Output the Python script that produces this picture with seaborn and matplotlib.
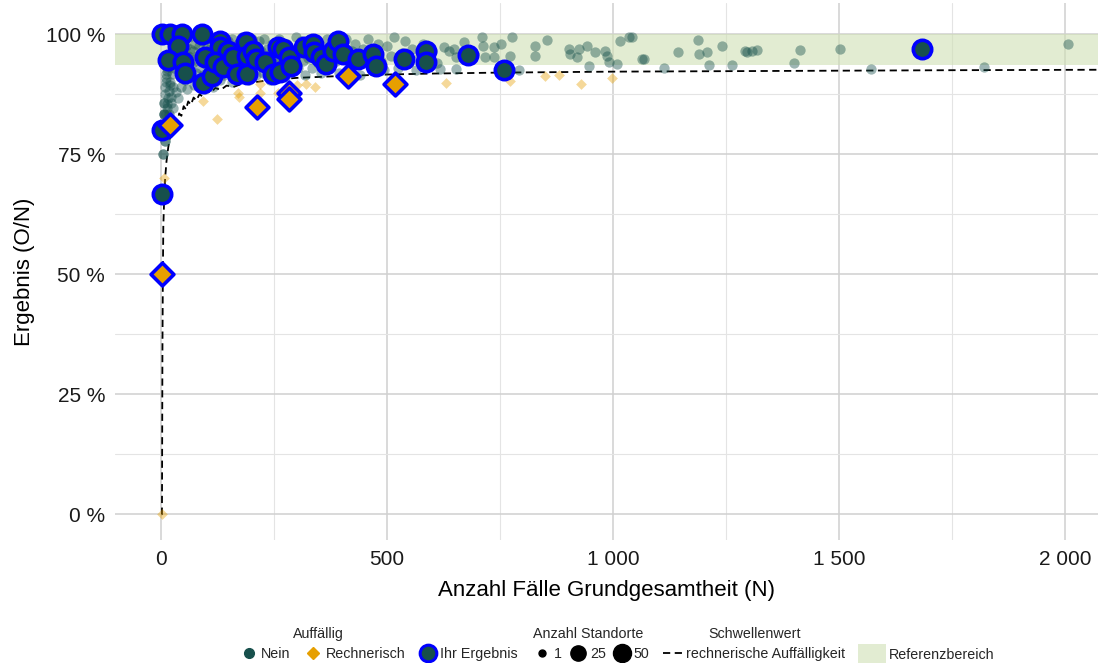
import numpy as np
import pandas as pd
import matplotlib
matplotlib.use("Agg")
import matplotlib.pyplot as plt
from matplotlib.lines import Line2D
from matplotlib.patches import Patch
from matplotlib.ticker import MultipleLocator, FixedLocator, FuncFormatter
import seaborn as sns

# --- data (N = Fälle, y = Ergebnis in %) ---

# all other sites, not auffällig
nein_n = [3, 5, 8, 10, 4, 9, 5, 11, 6, 13, 7, 15, 8, 17, 9, 10, 20, 11, 12, 24, 13, 14, 28, 15, 16, 18, 20, 22, 25, 28, 30,
          4, 9, 6, 14, 2, 4, 6, 7, 12, 18, 21, 26, 33, 38, 27, 19, 23,
          32, 35, 36, 40, 42, 44, 45, 48, 50, 52, 55, 57, 58, 60,
          62, 64, 66, 68, 70, 72, 74, 76, 78, 80, 82, 84, 86, 88, 90, 92, 95, 97, 99,
          102, 104, 106, 108, 110, 112, 114, 116, 118, 120, 122, 125, 127, 130, 132, 135, 137, 140, 142, 145, 147, 149,
          152, 154, 156, 158, 160, 162, 165, 167, 170, 172, 175, 178, 180, 182, 185, 187, 190, 193, 195, 198,
          202, 205, 208, 210, 213, 216, 219, 222, 225, 228, 231, 234, 237, 240, 243, 246, 249, 252, 255, 258,
          262, 266, 270, 274, 278, 282, 286, 290, 294, 298, 302, 306, 310, 314, 318, 322, 326, 330, 334, 338,
          343, 348, 353, 358, 363, 368, 373, 378, 383, 388, 393, 398, 404, 410, 416, 422, 428, 434, 440,
          446, 452, 458, 465, 472, 479, 486, 493, 500, 508, 516, 524, 532, 540, 548, 556, 564, 572, 580, 590, 600, 610, 618,
          627, 636, 649, 653, 671, 693, 709, 713, 716, 736, 736, 753, 771, 776, 793, 827, 827, 853, 902, 904, 920, 924,
          942, 947, 960, 982, 987, 991, 1009, 1016, 1036, 1064, 653,
          1042, 1069, 1113, 1144, 1189, 1191, 1209, 1213, 1242, 1264, 1293, 1296, 1307, 1318, 1400, 1413, 1502, 1571,
          1820, 2007]
nein_y = [100, 100, 100, 100, 75, 77.8, 80, 81.8, 83.3, 84.6, 85.7, 86.7, 87.5, 88.2, 88.9, 90, 90, 90.9, 91.7, 91.7, 92.3, 92.9, 92.9, 93.3, 93.8, 94.4, 95, 95.5, 96, 96.4, 96.7,
          75, 77.8, 83.3, 85.4, 100, 100, 83.3, 85.7, 83.3, 83.3, 85.7, 84.6, 87.9, 86.8, 88.9, 89.5, 87,
          99, 97, 95, 93, 91, 89, 98.5, 96, 94, 90.5, 97.5, 92.5, 88.5, 95.5,
          99.5, 97, 93.5, 91, 96.5, 89.5, 98, 94.5, 92, 95.5, 90, 97.5, 93, 96, 98.5, 91.5, 94, 88.5, 97,
          99, 95, 92.5, 90, 97.5, 94.5, 96.5, 89, 98.5, 92, 95.5, 97, 93.5, 90.5, 96, 99, 94, 91.5, 97.5, 95, 92.5, 98.5,
          96.5, 93, 90, 99, 94.5, 97, 92, 95.5, 98, 93.5, 96.5, 91, 99.5, 94, 97, 92.5, 95, 98, 90.5, 96,
          99, 93.5, 97.5, 91.5, 95.5, 98.5, 94, 96.5, 92, 99, 95, 97, 93, 90.5, 96, 98, 94.5, 92, 97.5, 95,
          99, 93.5, 96.5, 91, 98, 94, 97, 92.5, 95.5, 99.5, 93, 96, 98.5, 94.5, 91.5, 97, 95, 99, 93, 96.5,
          98, 94, 92, 97, 95.5, 99, 93.5, 96, 98.5, 94.5, 92, 97.5, 95, 99, 93, 96.5, 98, 94, 91.5,
          97, 95, 99, 93.5, 96.5, 98, 94.5, 92.5, 97.5, 95.5, 99.5, 93, 96, 98.5, 94, 97, 92.5, 95.5, 98, 93.5, 96.5, 94, 92.8,
          97.3, 96.5, 96.9, 95.2, 98.3, 95.8, 99.4, 97.5, 95.2, 97.3, 95.2, 97.9, 95.4, 99.4, 92.5, 97.5, 95.4, 98.8, 96.9, 95.8, 95.2, 96.9,
          97.5, 93.3, 96.3, 96.5, 95.4, 94.2, 93.8, 98.5, 99.4, 94.8, 92.7,
          99.4, 94.8, 92.9, 96.3, 98.7, 95.8, 96.2, 93.5, 97.5, 93.5, 96.5, 96.2, 96.6, 96.8, 94, 96.7, 97, 92.7,
          93.1, 97.9]

# rechnerisch auffällig, other sites
rech_n = [1, 7, 93, 124, 171, 173, 218, 220, 258, 300, 320, 340, 631, 773, 849, 880, 929, 998]
rech_y = [0, 70, 86, 82.3, 87.7, 86.9, 87.7, 89.6, 87.7, 89.5, 89.6, 88.9, 89.8, 90.2, 91.2, 91.5, 89.6, 90.8]

# Ihr Ergebnis, not auffällig
ihr_n = [2, 20, 47, 91, 38, 16, 49, 53, 93, 113, 98, 131, 131, 149, 120, 138, 160, 169, 187, 191, 191, 204, 209,
         231, 247, 258, 264, 269, 282, 287, 316, 336, 338, 353, 364, 380, 391, 402, 436, 469, 476, 538, 587, 587,
         680, 758, 1684, 3, 2]
ihr_y = [100, 100, 100, 100, 97.5, 94.6, 94.2, 92, 89.8, 91.2, 95.2, 98.5, 97.3, 96.5, 94.2, 93.1, 95.2, 91.7, 98.3,
         95.4, 91.7, 96.5, 94.8, 94.2, 91.7, 97.3, 92.1, 96.9, 95.2, 93.3, 97.3, 97.9, 96.3, 95.2, 93.8, 96.5, 98.5,
         95.8, 94.8, 95.8, 93.3, 94.8, 96.5, 94.2, 95.6, 92.5, 96.9, 80, 66.7]

# Ihr Ergebnis, rechnerisch auffällig
ihr_rech_n = [2, 20, 213, 284, 282, 413, 518]
ihr_rech_y = [50, 81, 84.8, 87.7, 86.5, 91.2, 89.6]

# Schwellenwert rechnerische Auffälligkeit
thr_n = [1, 2, 3, 4, 5, 7, 9, 12, 16, 20, 24, 28, 32, 36, 40, 45, 50, 55, 60, 66, 72, 78, 85, 92, 100, 110, 120,
         132, 145, 160, 180, 200, 230, 260, 300, 350, 400, 500, 600, 750, 1000, 1250, 1500, 1750, 2100]
thr_y = [0, 0, 33.3, 50, 60, 66, 70, 73.5, 76.5, 78.5, 80.5, 80, 82, 81.5, 83.5, 83, 85, 84.3, 86, 85.3, 86.8, 86.2,
         87.5, 87, 88.3, 87.8, 88.8, 88.4, 89.3, 89, 89.7, 89.9, 90.3, 90.6, 90.9, 91.1, 91.3, 91.6, 91.8, 92, 92.2,
         92.3, 92.4, 92.5, 92.6]

ref_lo, ref_hi = 93.5, 100

TEAL = "#17504c"
ORANGE = "#e69f00"
BLUE = "#0000ff"

sns.set_theme(style="whitegrid")
plt.rcParams["font.family"] = ["Liberation Sans", "DejaVu Sans"]

fig = plt.figure(figsize=(10.98, 6.63), dpi=100)
ax = fig.add_axes([0.1047, 0.1855, 0.8953, 0.8100])

ax.axhspan(ref_lo, ref_hi, color="#cfe0b4", alpha=0.6, lw=0, zorder=1)

sns.lineplot(x=thr_n, y=thr_y, ax=ax, color="black", lw=1.3, linestyle=(0, (4, 2.5)),
             estimator=None, sort=False, zorder=2)

sns.scatterplot(x=nein_n, y=nein_y, ax=ax, s=55, color=TEAL, alpha=0.42, linewidth=0, zorder=3, legend=False)
sns.scatterplot(x=rech_n, y=rech_y, ax=ax, s=30, marker="D", color=ORANGE, alpha=0.4, linewidth=0, zorder=3,
                legend=False)
sns.scatterplot(x=ihr_n, y=ihr_y, ax=ax, s=175, color=TEAL, edgecolor=BLUE, linewidth=2.6, zorder=5, legend=False)
sns.scatterplot(x=ihr_rech_n, y=ihr_rech_y, ax=ax, s=135, marker="D", color=ORANGE, edgecolor=BLUE, linewidth=2.6,
                zorder=5, legend=False)

ax.set_xlim(-102, 2073)
ax.set_ylim(-5.35, 106.5)

ax.xaxis.set_major_locator(FixedLocator([0, 500, 1000, 1500, 2000]))
ax.xaxis.set_minor_locator(FixedLocator([250, 750, 1250, 1750]))
ax.yaxis.set_major_locator(MultipleLocator(25))
ax.yaxis.set_minor_locator(MultipleLocator(12.5))
ax.xaxis.set_major_formatter(FuncFormatter(lambda v, p: f"{int(v):,}".replace(",", " ")))
ax.yaxis.set_major_formatter(FuncFormatter(lambda v, p: f"{int(v)} %"))

ax.grid(which="major", color="#d0d0d0", lw=1.1)
ax.grid(which="minor", color="#e4e4e4", lw=0.8)
ax.set_axisbelow(True)
for sp in ax.spines.values():
    sp.set_visible(False)
ax.tick_params(which="both", length=0, labelsize=15, colors="#1a1a1a", pad=7)

ax.set_xlabel("Anzahl Fälle Grundgesamtheit (N)", fontsize=16, color="black", labelpad=8)
ax.set_ylabel("Ergebnis (O/N)", fontsize=16, color="black", labelpad=8)

# --- legends at the bottom ---
leg_y = 1 - 654 / 663
title_y = 1 - 634 / 663
lkw = dict(frameon=False, fontsize=10.3, borderpad=0, borderaxespad=0, loc="center left",
           handletextpad=0.35, columnspacing=1.1)

h1 = [Line2D([], [], marker="o", ls="", color=TEAL, markersize=7),
      Line2D([], [], marker="D", ls="", color=ORANGE, markersize=6),
      Line2D([], [], marker="o", ls="", markerfacecolor=TEAL, markeredgecolor=BLUE, markeredgewidth=2.2,
             markersize=12)]
fig.legend(h1, ["Nein", "Rechnerisch", "Ihr Ergebnis"], ncol=3, bbox_to_anchor=(0.220, leg_y),
           handlelength=1.0, **lkw)

h2 = [Line2D([], [], marker="o", ls="", color="black", markersize=5),
      Line2D([], [], marker="o", ls="", color="black", markersize=11),
      Line2D([], [], marker="o", ls="", color="black", markersize=13)]
fig.legend(h2, ["1", "25", "50"], ncol=3, bbox_to_anchor=(0.487, leg_y), handlelength=1.0,
           **{**lkw, "columnspacing": 0.6})

h3 = [Line2D([], [], color="black", lw=1.3, linestyle=(0, (4, 2.5)))]
fig.legend(h3, ["rechnerische Auffälligkeit"], bbox_to_anchor=(0.604, leg_y), handlelength=1.4,
           **{**lkw, "handletextpad": 0.2})

h4 = [Patch(facecolor="#e2ecd2", edgecolor="none")]
fig.legend(h4, ["Referenzbereich"], bbox_to_anchor=(0.781, leg_y), handlelength=2.0, handleheight=1.8,
           **{**lkw, "handletextpad": 0.2})

fig.text(0.290, title_y, "Auffällig", ha="center", va="center", fontsize=10.3)
fig.text(0.5355, title_y, "Anzahl Standorte", ha="center", va="center", fontsize=10.3)
fig.text(0.687, title_y, "Schwellenwert", ha="center", va="center", fontsize=10.3)

fig.savefig("out.png", dpi=100)
